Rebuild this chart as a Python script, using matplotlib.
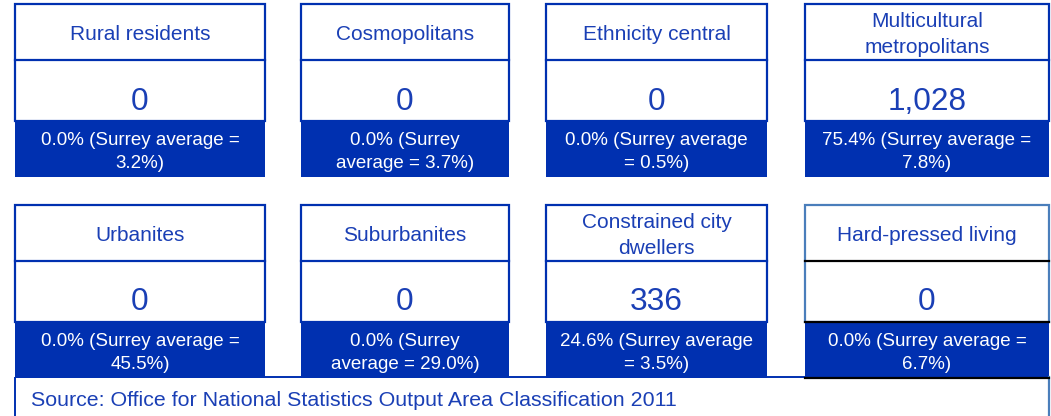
import textwrap
import matplotlib
matplotlib.use("Agg")
import matplotlib.pyplot as plt
from matplotlib.patches import Rectangle

plt.rcParams['font.family'] = ['Liberation Sans', 'DejaVu Sans']

# supergroup cards, left to right, top to bottom
groups = ["Rural residents", "Cosmopolitans", "Ethnicity central",
          "Multicultural\nmetropolitans", "Urbanites", "Suburbanites",
          "Constrained city\ndwellers", "Hard-pressed living"]
counts = [0, 0, 0, 1028, 0, 0, 336, 0]
pct = [0.0, 0.0, 0.0, 75.4, 0.0, 0.0, 24.6, 0.0]
surrey_avg = [3.2, 3.7, 0.5, 7.8, 45.5, 29.0, 3.5, 6.7]
source = "Source: Office for National Statistics Output Area Classification 2011"

BLUE = "#0030b0"
TXT = "#1a3fb5"

# layout in pixels
lefts = [15, 301, 546, 805]
rights = [265, 509, 767, 1049]
tops = [4, 205]
h_head, h_val, h_foot = 56, 61, 56
wrap = [22, 15, 21, 23, 22, 16, 21, 22]

fig = plt.figure(figsize=(10.51, 4.16), dpi=100)
ax = fig.add_axes([0, 0, 1, 1])
ax.set_xlim(0, 1051)
ax.set_ylim(416, 0)
ax.axis("off")

# source box under the second row
ax.add_patch(Rectangle((15, 377), 1034, 60, fill=False, edgecolor=BLUE, lw=1.4))
ax.plot([1049, 1049], [377, 416], color="#4a7ebb", lw=1.6)
ax.text(31, 401, source, color=TXT, fontsize=15.4, va="center", ha="left")

for i, name in enumerate(groups):
    r, c = divmod(i, 4)
    x0, x1 = lefts[c], rights[c]
    w = x1 - x0
    y0 = tops[r]
    edge = "#4a7ebb" if i == 7 else BLUE
    sep = "black" if i == 7 else BLUE

    ax.add_patch(Rectangle((x0, y0), w, h_head + h_val, facecolor="white",
                           edgecolor=edge, lw=1.6))
    ax.add_patch(Rectangle((x0, y0 + h_head + h_val), w, h_foot,
                           facecolor=BLUE, edgecolor="none"))
    ax.plot([x0, x1], [y0 + h_head, y0 + h_head], color=sep, lw=1.6)
    if i == 7:
        ax.plot([x0, x1], [y0 + h_head + h_val] * 2, color="black", lw=1.6)
        ax.plot([x0, x1], [y0 + h_head + h_val + h_foot] * 2, color="black", lw=1.6)

    cx = (x0 + x1) / 2
    ax.text(cx, y0 + h_head / 2 + 2.5, name, color=TXT, fontsize=15,
            ha="center", va="center", linespacing=1.45)
    ax.text(cx, y0 + h_head + 41.5, f"{counts[i]:,}", color=TXT, fontsize=22.7,
            ha="center", va="center")
    foot = f"{pct[i]:.1f}% (Surrey average = {surrey_avg[i]:.1f}%)"
    foot = "\n".join(textwrap.wrap(foot, wrap[i]))
    ax.text(cx, y0 + h_head + h_val + h_foot / 2 + 3, foot, color="white",
            fontsize=13.5, ha="center", va="center", linespacing=1.5)

fig.savefig("out.png", dpi=100)
